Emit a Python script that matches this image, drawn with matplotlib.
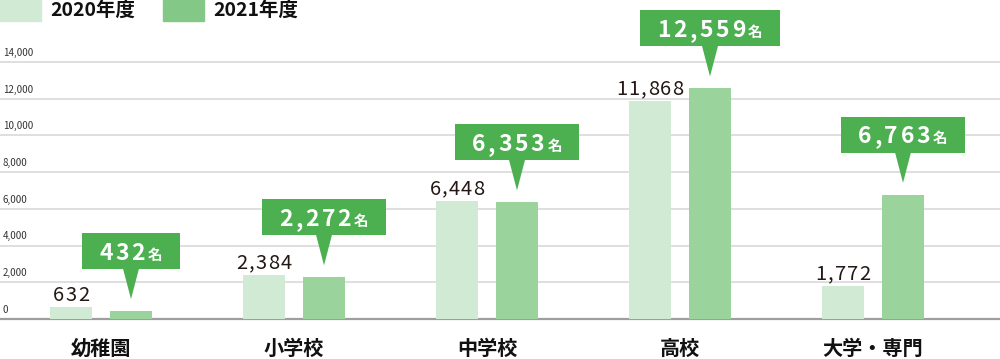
import matplotlib
matplotlib.use("Agg")
import matplotlib.pyplot as plt
from matplotlib.patches import Rectangle, Polygon

plt.rcParams['font.family'] = ['Noto Sans CJK JP', 'DejaVu Sans']

categories = ['幼稚園', '小学校', '中学校', '高校', '大学・専門']
values_2020 = [632, 2384, 6448, 11868, 1772]
values_2021 = [432, 2272, 6353, 12559, 6763]
series_names = ['2020年度', '2021年度']
yticks = [0, 2000, 4000, 6000, 8000, 10000, 12000, 14000]
unit = '名'

W, H = 1000, 359
fig = plt.figure(figsize=(W / 100, H / 100), dpi=100)
ax = fig.add_axes([0, 0, 1, 1])
ax.set_xlim(-101 / 193, (W - 101) / 193)
ax.set_ylim(-40 * 14000 / 257, 14000 + 62 * 14000 / 257)
ax.axis('off')

c2020 = '#d1ead3'
c2021 = '#9ad39c'
c2021_leg = '#83c886'
c_call = '#4caf50'

fig.canvas.draw()
renderer = fig.canvas.get_renderer()


def char_w(ch, **kw):
    t = fig.text(0, 0, ch, **kw)
    w = t.get_window_extent(renderer).width
    t.remove()
    return w


def draw_spaced(x0, y, s, spacing, **kw):
    """draw string char by char starting at display x0, baseline y; return end x"""
    xx = x0
    for k, ch in enumerate(s):
        w = char_w(ch, **kw)
        ax.text(xx, y, ch, transform=None, ha='left', va='baseline', **kw)
        xx += w + (spacing if k < len(s) - 1 else 0)
    return xx


def spaced_width(s, spacing, **kw):
    return sum(char_w(ch, **kw) for ch in s) + spacing * (len(s) - 1)


# grid lines and tick labels
for t in yticks:
    if t == 0:
        ax.axhline(0, color='#9e9e9e', lw=1.6, zorder=1)
    else:
        ax.axhline(t, color='#dcdcdc', lw=1.3, zorder=0)
    ax.annotate(f'{t:,}', xy=(0, t), xycoords=('axes fraction', 'data'),
                xytext=(2, 3), textcoords='offset points', fontsize=7,
                color='#333333', ha='left', va='bottom')

off = 30 / 193
bw = 42 / 193
x = list(range(len(categories)))
ax.bar([i - off for i in x], values_2020, width=bw, color=c2020, zorder=2)
ax.bar([i + off for i in x], values_2021, width=bw, color=c2021, zorder=2)

# 2020 value labels (letter-spaced)
lab_kw = dict(fontsize=14.5, color='#231815', zorder=4)
lsp = 1.2
for i, v in zip(x, values_2020):
    cx, top = ax.transData.transform((i - off, v))
    s = f'{v:,}'
    wtot = spaced_width(s, lsp, **lab_kw)
    draw_spaced(cx - wtot / 2, top + 6, s, lsp, **lab_kw)

# category labels
for i, c in zip(x, categories):
    ax.text(i, -1607, c, ha='center', va='center', fontsize=14.5, fontweight='bold',
            color='#111111')

# legend
fig.patches.append(Rectangle((0, H - 21), 41, 21, transform=None, color=c2020))
fig.patches.append(Rectangle((163, H - 21), 41, 21, transform=None, color=c2021_leg))
fig.text(50 / W, 1 - 10 / H, series_names[0], fontsize=14, fontweight='bold',
         va='center', ha='left', color='#111111')
fig.text(213 / W, 1 - 10 / H, series_names[1], fontsize=14, fontweight='bold',
         va='center', ha='left', color='#111111')

# callouts for 2021
num_kw = dict(fontsize=16.5, fontweight='bold', color='white', zorder=6)
unit_kw = dict(fontsize=10.5, fontweight='bold', color='white', zorder=6)
sp = 2.6
for i, v in zip(x, values_2021):
    cx, top = ax.transData.transform((i + off, v))
    tip = top + 12
    base = tip + 30
    boxh = 36
    s = f'{v:,}'
    w1 = spaced_width(s, sp, **num_kw)
    w2 = char_w(unit, **unit_kw)
    gap = 3
    content = w1 + gap + w2
    bwid = content + 34
    left = cx - bwid / 2
    ymid = base + boxh / 2
    yb = ymid - 8.5
    xend = draw_spaced(cx - content / 2, yb, s, sp, **num_kw)
    ax.text(xend + gap, yb, unit, transform=None, ha='left', va='baseline', **unit_kw)
    ax.add_patch(Rectangle((left, base), bwid, boxh, transform=None, color=c_call,
                           zorder=5, lw=0))
    ax.add_patch(Polygon([(cx - 8, base + 0.5), (cx + 8, base + 0.5), (cx, tip)],
                         closed=True, transform=None, color=c_call, zorder=5, lw=0))

fig.savefig('out.png', dpi=100)
